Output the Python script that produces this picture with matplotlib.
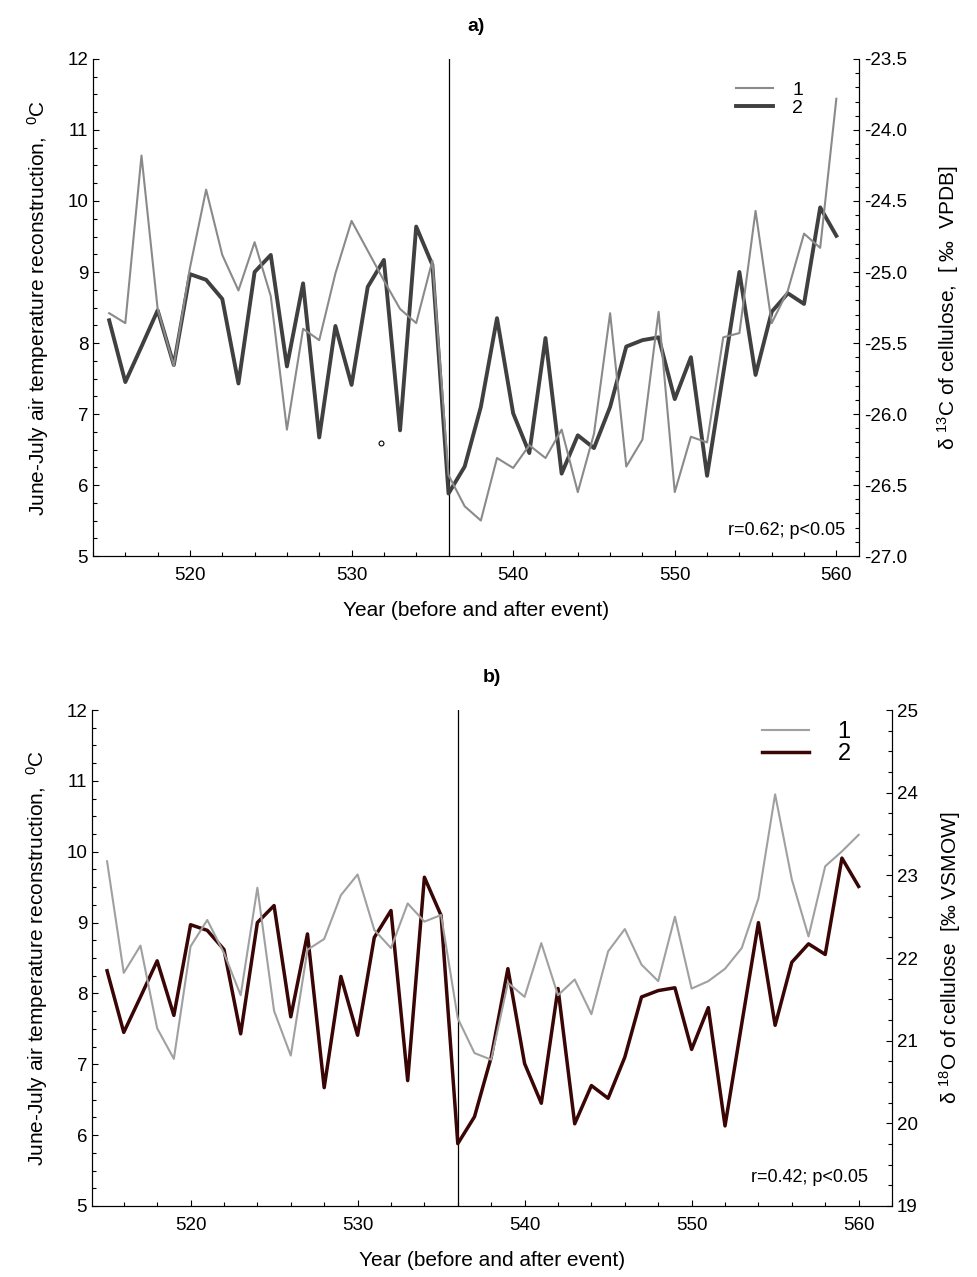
import numpy as np
import matplotlib
matplotlib.use('Agg')
import matplotlib.pyplot as plt
from matplotlib.ticker import MultipleLocator
from matplotlib.lines import Line2D

plt.rcParams['font.family'] = ['Liberation Sans', 'DejaVu Sans']
plt.rcParams['mathtext.fontset'] = 'custom'
plt.rcParams['mathtext.rm'] = 'Liberation Sans'
plt.rcParams['mathtext.it'] = 'Liberation Sans:italic'

# data
years = list(range(515, 561))
temp = [8.32, 7.45, 7.95, 8.46, 7.69, 8.97, 8.89, 8.62, 7.43, 9.00,
        9.24, 7.67, 8.84, 6.67, 8.24, 7.41, 8.79, 9.17, 6.77, 9.64,
        9.10, 5.88, 6.26, 7.10, 8.35, 7.01, 6.45, 8.07, 6.16, 6.70,
        6.52, 7.10, 7.95, 8.04, 8.08, 7.21, 7.80, 6.13, 7.57, 9.00,
        7.55, 8.44, 8.70, 8.55, 9.91, 9.51]
d13c = [-25.29, -25.36, -24.18, -25.26, -25.66, -24.97, -24.42, -24.88, -25.13, -24.79,
        -25.17, -26.11, -25.40, -25.48, -25.01, -24.64, -24.85, -25.06, -25.26, -25.36,
        -24.92, -26.43, -26.65, -26.75, -26.31, -26.38, -26.22, -26.31, -26.11, -26.55,
        -26.14, -25.29, -26.37, -26.18, -25.28, -26.55, -26.16, -26.20, -25.46, -25.43,
        -24.57, -25.36, -25.13, -24.73, -24.83, -23.78]
d18o = [23.17, 21.82, 22.15, 21.15, 20.78, 22.14, 22.46, 22.06, 21.55, 22.85,
        21.36, 20.82, 22.10, 22.23, 22.76, 23.01, 22.34, 22.12, 22.66, 22.44,
        22.52, 21.27, 20.85, 20.77, 21.70, 21.53, 22.18, 21.55, 21.74, 21.32,
        22.08, 22.35, 21.92, 21.72, 22.50, 21.63, 21.72, 21.87, 22.12, 22.72,
        23.98, 22.95, 22.26, 23.11, 23.29, 23.49]
event_year = 536
stray_pt = (531.8, 6.59)
r_text_a = 'r=0.62; p<0.05'
r_text_b = 'r=0.42; p<0.05'

fig = plt.figure(figsize=(9.78, 12.77), dpi=100)


def style_axes(ax, ax2, xlim, minor_right):
    ax.set_xlim(*xlim)
    ax.set_ylim(5, 12)
    ax.xaxis.set_major_locator(MultipleLocator(10))
    ax.xaxis.set_minor_locator(MultipleLocator(2))
    ax.yaxis.set_major_locator(MultipleLocator(1))
    ax.yaxis.set_minor_locator(MultipleLocator(0.25))
    ax2.yaxis.set_minor_locator(MultipleLocator(minor_right))
    for a in (ax, ax2):
        a.spines['top'].set_visible(False)
        a.tick_params(which='both', direction='in', labelsize=13.5, width=0.8)
        a.tick_params(which='major', length=4)
        a.tick_params(which='minor', length=3)
    ax.tick_params(axis='x', pad=8)
    ax.set_xlabel('Year (before and after event)', fontsize=15, labelpad=12)
    ax.set_ylabel('June-July air temperature reconstruction,  $^{0}$C', fontsize=15, labelpad=12)
    ax.axvline(event_year, color='black', lw=0.9, zorder=1)


# ---- panel a ----
ax = fig.add_axes([0.0951, 0.5646, 0.7832, 0.3892])
ax2 = ax.twinx()
ax2.set_ylim(-27.0, -23.5)
ax2.yaxis.set_major_locator(MultipleLocator(0.5))
ax2.yaxis.set_major_formatter(matplotlib.ticker.FormatStrFormatter('%.1f'))
ax2.plot(years, d13c, color='#8a8a8a', lw=1.5, zorder=2)
ax.plot(years, temp, color='#404040', lw=2.8, zorder=3)
ax.plot(*stray_pt, 'o', mfc='white', mec='black', ms=3.5, mew=0.8)
style_axes(ax, ax2, (514.0, 561.4), 0.1)
ax2.set_ylabel('δ $^{13}$C of cellulose,  [ ‰  VPDB]', fontsize=15, labelpad=20)
ax2.legend([Line2D([], [], color='#8a8a8a', lw=1.5), Line2D([], [], color='#404040', lw=2.8)],
           ['1', '2'], loc='upper right', bbox_to_anchor=(0.95, 0.99), frameon=False,
           fontsize=14, handlelength=1.9, labelspacing=0.0, handletextpad=1.0)
ax.text(0.982, 0.035, r_text_a, transform=ax.transAxes, ha='right', va='bottom', fontsize=13)
ax.set_title('a)', fontsize=14, fontweight='bold', pad=20)

# ---- panel b ----
bx = fig.add_axes([0.0941, 0.0556, 0.818, 0.3884])
bx2 = bx.twinx()
bx2.set_ylim(19, 25)
bx2.yaxis.set_major_locator(MultipleLocator(1))
bx2.plot(years, d18o, color='#a0a0a0', lw=1.5, zorder=2)
bx.plot(years, temp, color='#3a0505', lw=2.5, zorder=3)
style_axes(bx, bx2, (514.1, 562.0), 0.25)
bx2.set_ylabel('δ $^{18}$O of cellulose  [‰ VSMOW]', fontsize=15, labelpad=14)
bx2.legend([Line2D([], [], color='#a0a0a0', lw=1.5), Line2D([], [], color='#3a0505', lw=2.5)],
           ['1', '2'], loc='upper right', bbox_to_anchor=(0.975, 1.02), frameon=False,
           fontsize=17, handlelength=2.0, labelspacing=0.0, handletextpad=1.2)
bx.text(0.97, 0.04, r_text_b, transform=bx.transAxes, ha='right', va='bottom', fontsize=13)
bx.set_title('b)', fontsize=14, fontweight='bold', pad=20)

fig.savefig('out.png', dpi=100)
